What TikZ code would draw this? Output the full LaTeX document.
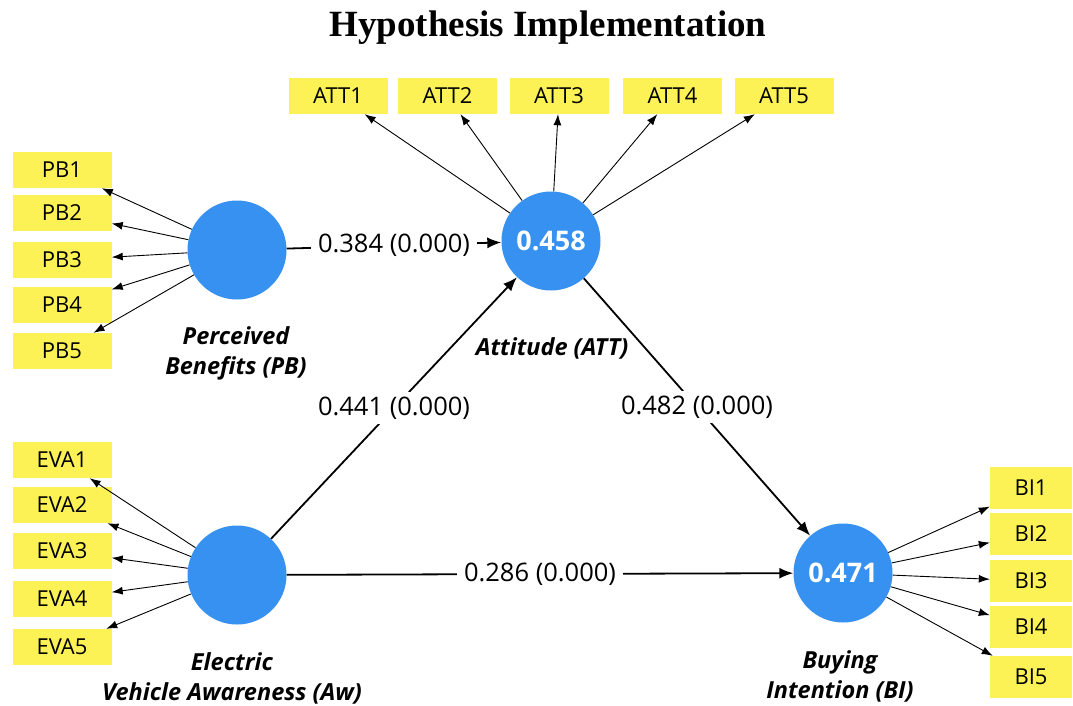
\documentclass[tikz,border=0pt]{standalone}
\usepackage{fontspec}
\setmainfont{Open Sans}
\newfontfamily\titlefont{Liberation Serif}
\usetikzlibrary{arrows.meta}
\definecolor{lvblue}{RGB}{55,145,240}
\definecolor{mvyellow}{RGB}{252,242,85}

\begin{document}
\begin{tikzpicture}[
        x=1pt, y=-1pt,
        latent/.style={circle, fill=lvblue, inner sep=0pt, minimum size=99pt,
            text=white, font=\fontsize{27}{30}\selectfont\bfseries},
        item/.style={rectangle, fill=mvyellow, inner sep=0pt, minimum width=99pt,
            minimum height=36pt, font=\fontsize{22}{26}\selectfont},
        loading/.style={-{Latex[length=11pt,width=8pt]}, line width=0.9pt},
        pathcoef/.style={-{Latex[length=14pt,width=11pt]}, line width=1.8pt},
        coef/.style={fill=white, inner xsep=7pt, inner ysep=5pt, font=\fontsize{25.5}{28}\selectfont},
        lvname/.style={align=center, font=\fontsize{23.5}{30}\selectfont\bfseries\itshape}
        ]

        \useasboundingbox (0,0) rectangle (1073,705);

        % title
        \node[font=\titlefont\fontsize{37}{40}\selectfont\bfseries] (title) at (548,28) {Hypothesis Implementation};

        % latent variables
        \node[latent] (pb)  at (237,250) {};
        \node[latent] (att) at (551,241) {0.458};
        \node[latent] (eva) at (237,575) {};
        \node[latent] (bi)  at (843,573) {0.471};

        \node[lvname] (pbname)  at (236,353) {Perceived\\Benefits (PB)};
        \node[lvname] (attname) at (552,348) {Attitude (ATT)};
        \node[lvname] (evaname) at (232,678) {Electric\\Vehicle Awareness (Aw)};
        \node[lvname] (biname)  at (840,676) {Buying\\Intention (BI)};

        % indicators
        \node[item] (pb1) at (62,170) {PB1};
        \node[item] (pb2) at (62,213) {PB2};
        \node[item] (pb3) at (62,260) {PB3};
        \node[item] (pb4) at (62,305) {PB4};
        \node[item] (pb5) at (62,351) {PB5};

        \node[item] (att1) at (338,96)   {ATT1};
        \node[item] (att2) at (447.5,96) {ATT2};
        \node[item] (att3) at (559,96)   {ATT3};
        \node[item] (att4) at (672.5,96) {ATT4};
        \node[item] (att5) at (784,96)   {ATT5};

        \node[item] (eva1) at (62,460) {EVA1};
        \node[item] (eva2) at (62,505) {EVA2};
        \node[item] (eva3) at (62,551) {EVA3};
        \node[item] (eva4) at (62,599) {EVA4};
        \node[item] (eva5) at (62,647) {EVA5};

        \node[item,minimum width=82pt,minimum height=42pt] (bi1) at (1031,488) {BI1};
        \node[item,minimum width=82pt,minimum height=42pt] (bi2) at (1031,534) {BI2};
        \node[item,minimum width=82pt,minimum height=42pt] (bi3) at (1031,581) {BI3};
        \node[item,minimum width=82pt,minimum height=42pt] (bi4) at (1031,627) {BI4};
        \node[item,minimum width=82pt,minimum height=42pt] (bi5) at (1031,677) {BI5};

        % loadings
        \draw[loading] (pb) edge (pb1) edge (pb2) edge (pb3) edge (pb4) edge (pb5);
        \draw[loading] (att) edge (att1) edge (att2) edge (att3) edge (att4) edge (att5);
        \draw[loading] (eva) edge (eva1) edge (eva2) edge (eva3) edge (eva4) edge (eva5);
        \draw[loading] (bi) edge (bi1) edge (bi2) edge (bi3) edge (bi4) edge (bi5);

        % paths
        \draw[pathcoef] (pb)  edge node[coef] {0.384 (0.000)} (att);
        \draw[pathcoef] (eva) edge node[coef] {0.441 (0.000)} (att);
        \draw[pathcoef] (att) edge node[coef] {0.482 (0.000)} (bi);
        \draw[pathcoef] (eva) edge node[coef] {0.286 (0.000)} (bi);

    \end{tikzpicture}
\end{document}
